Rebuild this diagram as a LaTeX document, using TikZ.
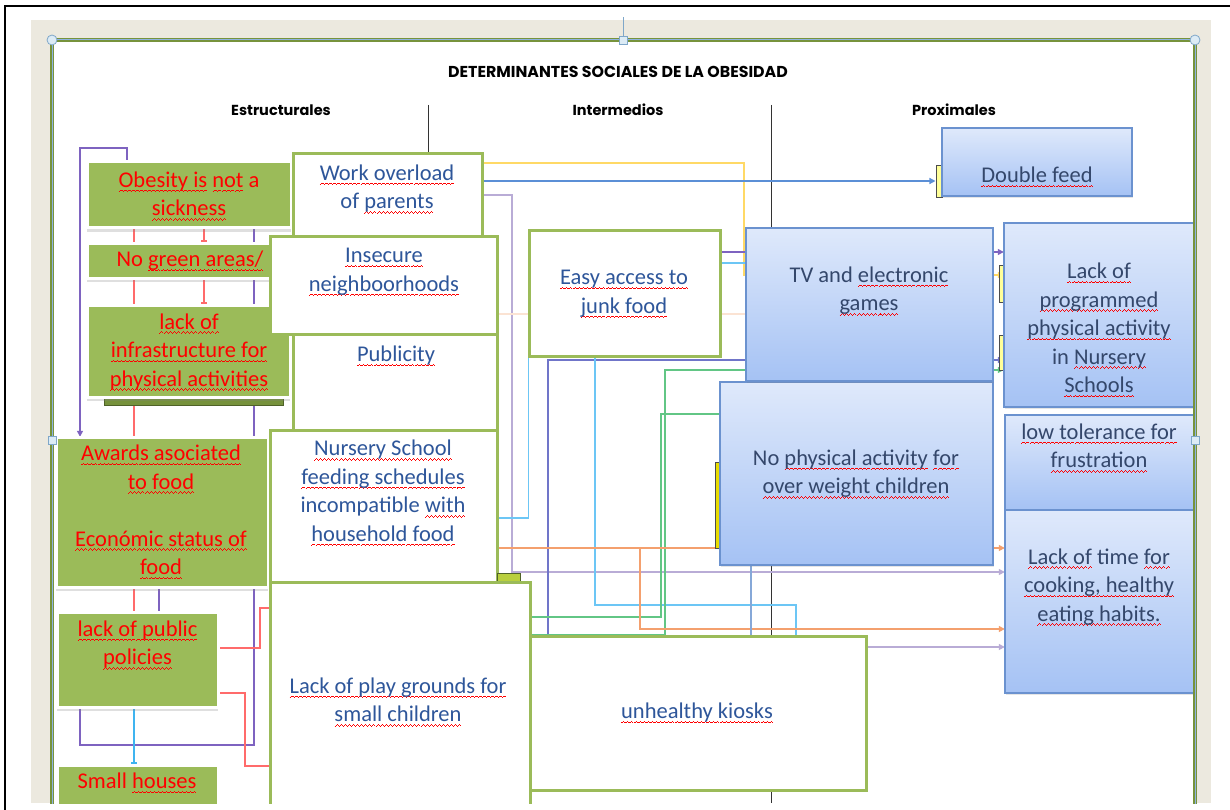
\documentclass[tikz,border=0pt]{standalone}
\usepackage{fontspec}
\setmainfont{Carlito}
\newfontfamily\headfont{Poppins}
\usetikzlibrary{positioning,
	arrows.meta,
	shadows}

\definecolor{gfill}{HTML}{9BBB59}
\definecolor{gdark}{HTML}{76923C}
\definecolor{gline}{HTML}{4F6228}
\definecolor{wline}{HTML}{9BBB59}
\definecolor{btop}{HTML}{DFE9FB}
\definecolor{bbot}{HTML}{A5C2F4}
\definecolor{bline}{HTML}{6B92CF}
\definecolor{redtext}{HTML}{FF0000}
\definecolor{wtext}{HTML}{2E569A}
\definecolor{btext}{HTML}{34476B}
\definecolor{squig}{HTML}{FF0000}
\definecolor{beige}{HTML}{ECE9DF}
\definecolor{frameg}{HTML}{77933C}
\definecolor{framebl}{HTML}{8DB3E2}
\definecolor{cyell}{HTML}{FFD966}
\definecolor{cblue}{HTML}{5B8FD6}
\definecolor{clav}{HTML}{B9ACD6}
\definecolor{ccyan}{HTML}{6CC6F5}
\definecolor{cpurp}{HTML}{7E63C0}
\definecolor{cgreen}{HTML}{62C685}
\definecolor{corange}{HTML}{F4A06E}
\definecolor{cred}{HTML}{FF6B6B}
\definecolor{cpeach}{HTML}{FBE3D3}
\definecolor{cgrayblue}{HTML}{86A8D8}
\definecolor{cskyblue}{HTML}{3FB4F0}
\definecolor{tabyel}{HTML}{FFFF99}
\definecolor{handlef}{HTML}{DCEBF5}
\definecolor{handled}{HTML}{7FA7C9}

% red spell-check wave under a piece of text
\newbox\sqbox
\newcommand\squnit{\rule[-4.6pt]{1pt}{0.8pt}\rule[-3.9pt]{1pt}{0.8pt}\rule[-3.2pt]{1pt}{0.8pt}\rule[-3.9pt]{1pt}{0.8pt}}
\newcommand\sq[1]{\leavevmode\setbox\sqbox\hbox{#1}\rlap{\hbox to\wd\sqbox{\color{squig}\xleaders\hbox{\squnit}\hfil}}\box\sqbox}
\newcommand\boxfont{\fontsize{22.5}{28.5}\selectfont}
\newcommand\titlesize{\headfont\bfseries\fontsize{15.8}{18}\selectfont}
\newcommand\headsize{\headfont\bfseries\fontsize{14.5}{17}\selectfont}

\tikzstyle{gbox}=[rectangle, inner sep=0, fill=gfill, draw=white, line width=3pt,
	drop shadow={shadow xshift=0pt, shadow yshift=-4pt, opacity=.25}]
\tikzstyle{wbox}=[rectangle, inner sep=0, fill=white, draw=wline, line width=3pt]
\tikzstyle{bbox}=[rectangle, inner sep=0, top color=btop, bottom color=bbot, draw=bline,
	line width=1.2pt, drop shadow={shadow xshift=1pt, shadow yshift=-2pt, opacity=.2}]
\tikzstyle{tab}=[rectangle, inner sep=0, fill=tabyel, draw=black!70, line width=0.8pt]
\tikzstyle{gtxt}=[inner sep=0, align=center, font=\boxfont, text=redtext]
\tikzstyle{wtxt}=[inner sep=0, align=center, font=\boxfont, text=wtext]
\tikzstyle{btxt}=[inner sep=0, align=center, font=\boxfont, text=btext]
\tikzstyle{head}=[inner sep=0, font=\headsize, text=black]
\tikzstyle{link}=[line width=1.3pt]
\tikzstyle{tee}=[-{Rectangle[length=2.5pt,width=6pt]}]
\tikzstyle{handle}=[inner sep=0, fill=handlef, draw=handled, line width=0.8pt]

\begin{document}
\begin{tikzpicture}[x=1pt, y=-1pt, >={Triangle[length=6pt,width=6pt]}]
\useasboundingbox (0,0) rectangle (1230,810);
\begin{scope}
\clip (0,0) rectangle (1230,803);
\fill[beige] (31,20) rectangle (1211,803);
\fill[white] (52,40) rectangle (1195,810);

% headings and column dividers
\node[head, font=\titlesize] (title) at (618,72) {DETERMINANTES SOCIALES DE LA OBESIDAD};
\node[head] (estr) at (281,110) {Estructurales};
\node[head] (inter) at (618,110) {Intermedios};
\node[head] (prox) at (954,110) {Proximales};
\draw[black!80, line width=0.9pt] (428,105) -- (428,803);
\draw[black!80, line width=0.9pt] (771,105) -- (771,803);

% boxes are placed first as empty shapes so that links can use their names
\path (189,195) node[minimum width=204pt, minimum height=66pt] (obesity) {}
      (193.5,260.5) node[minimum width=213pt, minimum height=35pt] (greenAreas) {}
      (188.5,351) node[minimum width=203pt, minimum height=92pt] (infra) {}
      (162,512) node[minimum width=212pt, minimum height=150pt] (awards) {}
      (137.5,659.5) node[minimum width=161pt, minimum height=95pt] (policies) {}
      (137.5,802.5) node[minimum width=161pt, minimum height=75pt] (houses) {}
      (387.5,227) node[minimum width=189pt, minimum height=146pt] (workload) {}
      (383.5,285.5) node[minimum width=227pt, minimum height=97pt] (insecure) {}
      (395,387) node[minimum width=204pt, minimum height=106pt] (publicity) {}
      (383.5,506) node[minimum width=227pt, minimum height=152pt] (nursery) {}
      (400,711) node[minimum width=260pt, minimum height=258pt] (playground) {}
      (624.5,293.5) node[minimum width=191pt, minimum height=125pt] (easy) {}
      (698,713) node[minimum width=336pt, minimum height=154pt] (kiosks) {}
      (1037,162) node[minimum width=190pt, minimum height=68pt] (dfeed) {}
      (939,181) node[minimum width=6pt, minimum height=32pt] (dfeedTab) {}
      (869.5,304.5) node[minimum width=247pt, minimum height=153pt] (tv) {}
      (1099,315) node[minimum width=190pt, minimum height=184pt] (progAct) {}
      (856.5,473.5) node[minimum width=273pt, minimum height=183pt] (noPhys) {}
      (1099.5,462.5) node[minimum width=189pt, minimum height=95pt] (lowTol) {}
      (1099.5,601.5) node[minimum width=189pt, minimum height=183pt] (lackTime) {};
\coordinate (orBranch) at (640,548);

% links of the middle and right columns
\draw[link, cyell, ->] (workload.east |- 0,163) -| (744,275) -- (progAct.west |- 0,275);
\draw[link, cblue, ->] (workload.east |- 0,181) -- (dfeedTab.west);
\draw[link, clav, ->] (workload.east |- 0,195) -| (512,572) -- (lackTime.west |- 0,572);
\draw[link, cpurp, ->] (easy.east |- 0,252) -- (progAct.west |- 0,252);
\draw[link, ccyan] (easy.east |- 0,263) -- (tv.west |- 0,263);
\draw[link, cpeach] (insecure.east |- 0,314) -- (tv.west |- 0,314);
\draw[link, ccyan] (nursery.east |- 0,518) -| (easy.south west);
\draw[link, cpurp!60!cblue, ->] (kiosks.north -| 548,0) |- (progAct.west |- 0,360);
\draw[link, ccyan] (kiosks.north -| 796,0) |- (595,605) -- (easy.south -| 595,0);
\draw[link, cgreen, ->] (playground.east |- 0,635) -| (665,370) -- (progAct.west |- 0,370);
\draw[link, cgreen] (playground.east |- 0,617) -| (661,414) -- (noPhys.west |- 0,414);
\draw[link, corange, ->] (nursery.east |- orBranch) -- (lackTime.west |- orBranch);
\draw[link, corange, ->] (orBranch) |- (lackTime.west |- 0,629);
\draw[link, clav, ->] (kiosks.east |- 0,647) -- (lackTime.west |- 0,647);
\draw[link, cgrayblue] (noPhys.south -| 751,0) -- (kiosks.north -| 751,0);

% links of the left column
\draw[link, cpurp, ->] (obesity.north -| 127,0) |- (80,148) -- (awards.north -| 80,0);
\draw[link, cred] (obesity.south -| 134,0) -- (policies.north -| 134,0);
\draw[link, cred, tee] (obesity.south -| 204,0) -- (greenAreas.north -| 204,0);
\draw[link, cred, tee] (greenAreas.south -| 204,0) -- (infra.north -| 204,0);
\draw[link, cpurp] (policies.south -| 80,0) |- (254,745) -- (obesity.south -| 254,0);
\draw[link, cpurp] (awards.south -| 159,0) -- (policies.north -| 159,0);
\draw[link, cskyblue, tee] (policies.south -| 134,0) -- (houses.north -| 134,0);
\draw[link, cred] (policies.east |- 0,648) -| (260,608) -- (playground.west |- 0,608);
\draw[link, cred] (policies.east |- 0,693) -| (245,766) -- (playground.west |- 0,766);

% green notes with red text
\node[gbox, minimum width=204pt, minimum height=66pt] at (obesity) {};
\node[gtxt] (obesityT) at (189,196) {\sq{Obesity is} \sq{not} a\\\sq{sickness}};
\node[gbox, minimum width=213pt, minimum height=35pt] at (greenAreas) {};
\node[gtxt] (greenAreasT) at (190,261) {No \sq{green areas/}};
\node[rectangle, inner sep=0, fill=gdark, draw=gline, line width=1pt,
	minimum width=179pt, minimum height=8pt] (infraBar) at (193.5,401) {};
\node[gbox, minimum width=203pt, minimum height=92pt] at (infra) {};
\node[gtxt] (infraT) at (189,352) {\sq{lack of}\\\sq{infrastructure for}\\\sq{physical activities}};
\node[gbox, minimum width=212pt, minimum height=150pt] at (awards) {};
\node[gtxt] (awardsT) at (161,512) {\sq{Awards asociated}\\\sq{to food}\\[28.5pt]\sq{Económic status of}\\\sq{food}};
\node[gbox, minimum width=161pt, minimum height=95pt] at (policies) {};
\node[gtxt] (policiesT) at (137.5,645) {\sq{lack of public}\\\sq{policies}};
\node[gbox, minimum width=161pt, minimum height=75pt] at (houses) {};
\node[gtxt] (housesT) at (137,783) {Small \sq{houses}};

% white boxes with blue text
\node[wbox, minimum width=189pt, minimum height=146pt] at (workload) {};
\node[wtxt] (workloadT) at (387,189) {\sq{Work overload}\\of \sq{parents}};
\node[wbox, minimum width=227pt, minimum height=97pt] at (insecure) {};
\node[wtxt] (insecureT) at (384,272) {\sq{Insecure}\\\sq{neighboorhoods}};
\node[wbox, minimum width=204pt, minimum height=106pt] at (publicity) {};
\node[wtxt] (publicityT) at (396,356) {\sq{Publicity}};
\node[wbox, minimum width=227pt, minimum height=152pt] at (nursery) {};
\node[wtxt] (nurseryT) at (383,493) {\sq{Nursery School}\\\sq{feeding schedules}\\incompatible \sq{with}\\\sq{household food}};
\node[rectangle, inner sep=0, fill=gfill!70!yellow, draw=gline, line width=0.8pt,
	minimum width=23pt, minimum height=9pt] (nurseryTab) at (508.5,577.5) {};
\node[wbox, minimum width=260pt, minimum height=258pt] at (playground) {};
\node[wtxt] (playgroundT) at (398,702) {\sq{Lack of play grounds for}\\\sq{small children}};
\node[wbox, minimum width=191pt, minimum height=125pt] at (easy) {};
\node[wtxt] (easyT) at (624,294) {\sq{Easy access to}\\\sq{junk food}};
\node[wbox, minimum width=336pt, minimum height=154pt] at (kiosks) {};
\node[wtxt] (kiosksT) at (697,713) {\sq{unhealthy kiosks}};

% blue boxes
\node[tab, minimum width=6pt, minimum height=32pt] at (dfeedTab) {};
\node[tab, minimum width=5pt, minimum height=37pt] (progTabA) at (1001.5,283.5) {};
\node[tab, minimum width=5pt, minimum height=35pt] (progTabB) at (1001.5,352.5) {};
\node[tab, fill=yellow!80!olive, minimum width=5pt, minimum height=86pt] (noPhysTab) at (717.5,505) {};
\node[bbox, minimum width=190pt, minimum height=68pt] at (dfeed) {};
\node[btxt] (dfeedT) at (1037,177) {\sq{Double feed}};
\node[bbox, minimum width=273pt, minimum height=183pt] at (noPhys) {};
\node[btxt] (noPhysT) at (856,474) {No \sq{physical activity} \sq{for}\\\sq{over weight children}};
\node[bbox, minimum width=247pt, minimum height=153pt] at (tv) {};
\node[btxt] (tvT) at (869,291) {TV and \sq{electronic}\\\sq{games}};
\node[bbox, minimum width=190pt, minimum height=184pt] at (progAct) {};
\node[btxt] (progActT) at (1099,330) {\sq{Lack of}\\\sq{programmed}\\\sq{physical activity}\\in \sq{Nursery}\\\sq{Schools}};
\node[bbox, minimum width=189pt, minimum height=95pt] at (lowTol) {};
\node[btxt] (lowTolT) at (1099,448) {\sq{low tolerance for}\\\sq{frustration}};
\node[bbox, minimum width=189pt, minimum height=183pt] at (lackTime) {};
\node[btxt] (lackTimeT) at (1099,587) {\sq{Lack of} time \sq{for}\\\sq{cooking, healthy}\\\sq{eating habits.}};

% canvas frame and selection handles
\draw[frameg, line width=3.5pt] (52,810) -- (52,40) -- (1195,40) -- (1195,810);
\draw[framebl, line width=1pt] (52,810) -- (52,40) -- (1195,40) -- (1195,810);
\node[handle, circle, minimum size=10pt] (hTL) at (52,40) {};
\node[handle, circle, minimum size=10pt] (hTR) at (1195,40) {};
\node[handle, minimum size=8pt] (hT) at (623,40) {};
\node[handle, minimum size=8pt] (hL) at (52,440) {};
\node[handle, minimum size=8pt] (hR) at (1195,440) {};
\draw[handled, line width=1pt] (hT.north) -- (623,17);
\end{scope}
\draw[black, line width=1.5pt] (5,810) -- (5,6) -- (1230,6);
\end{tikzpicture}
\end{document}
